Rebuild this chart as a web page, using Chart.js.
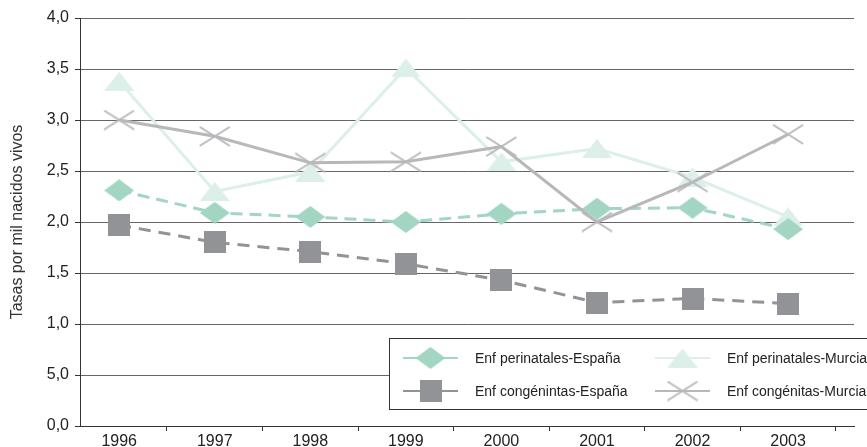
<!DOCTYPE html>
<html>
<head>
<meta charset="utf-8">
<script src="https://cdn.jsdelivr.net/npm/chart.js@4.4.1/dist/chart.umd.min.js"></script>
<style>
  html, body { margin: 0; padding: 0; background: #fff; }
  canvas { display: block; }
</style>
</head>
<body>
<canvas id="chart" width="867" height="447"></canvas>
<script>
const years = ['1996', '1997', '1998', '1999', '2000', '2001', '2002', '2003'];
const perinatalesEspana = [2.31, 2.09, 2.05, 2.00, 2.08, 2.13, 2.14, 1.93];
const congenitasEspana = [1.97, 1.80, 1.71, 1.59, 1.43, 1.21, 1.25, 1.20];
const perinatalesMurcia = [3.38, 2.30, 2.49, 3.51, 2.59, 2.72, 2.44, 2.05];
const congenitasMurcia = [3.00, 2.84, 2.58, 2.59, 2.74, 2.00, 2.39, 2.86];
// the 0,5 tick really reads "5,0" in the original
const yTickLabels = ['0,0', '5,0', '1,0', '1,5', '2,0', '2,5', '3,0', '3,5', '4,0'];
const yTitle = 'Tasas por mil nacidos vivos';

const GREEN = '#a2d6c3';
const PALE = '#dcefe8';
const DARK = '#929396';
const LIGHT = '#b8b8bc';
const FONT = 'Arial, "Liberation Sans", Helvetica, sans-serif';

function marker(w, h, draw) {
  const c = document.createElement('canvas');
  c.width = w; c.height = h;
  draw(c.getContext('2d'), w, h);
  return c;
}
const diamond = marker(30, 22, (g, w, h) => {
  g.fillStyle = GREEN;
  g.beginPath();
  g.moveTo(w / 2, 0); g.lineTo(w, h / 2); g.lineTo(w / 2, h); g.lineTo(0, h / 2);
  g.closePath(); g.fill();
});
const square = marker(22, 22, (g, w, h) => { g.fillStyle = DARK; g.fillRect(0, 0, w, h); });
const triangle = marker(30, 19, (g, w, h) => {
  g.fillStyle = PALE;
  g.beginPath();
  g.moveTo(w / 2, 0); g.lineTo(w, h); g.lineTo(0, h);
  g.closePath(); g.fill();
});
const cross = marker(32, 21, (g, w, h) => {
  g.strokeStyle = LIGHT; g.lineWidth = 2;
  g.beginPath();
  g.moveTo(1, 1); g.lineTo(w - 1, h - 1);
  g.moveTo(w - 1, 1); g.lineTo(1, h - 1);
  g.stroke();
});

const toPoints = arr => arr.map((v, i) => ({ x: i, y: v }));

const datasets = [
  { label: 'Enf perinatales-España', data: toPoints(perinatalesEspana), borderColor: GREEN,
    borderWidth: 3, borderDash: [12, 7], pointStyle: diamond, order: 3 },
  { label: 'Enf perinatales-Murcia', data: toPoints(perinatalesMurcia), borderColor: PALE,
    borderWidth: 3, pointStyle: triangle, order: 4 },
  { label: 'Enf congénintas-España', data: toPoints(congenitasEspana), borderColor: DARK,
    borderWidth: 3, borderDash: [12, 8], pointStyle: square, order: 2 },
  { label: 'Enf congénitas-Murcia', data: toPoints(congenitasMurcia), borderColor: LIGHT,
    borderWidth: 3, pointStyle: cross, order: 1 },
];

// legend drawn on the canvas: 2 x 2 grid inside a white box
const legendBox = {
  id: 'legendBox',
  afterDatasetsDraw(chart) {
    const ctx = chart.ctx;
    ctx.save();
    ctx.fillStyle = '#fff';
    ctx.strokeStyle = '#333';
    ctx.lineWidth = 1;
    ctx.fillRect(389.5, 338.5, 500, 71);
    ctx.strokeRect(389.5, 338.5, 500, 71);
    const cols = [403, 655];
    const rows = [358, 391];
    chart.data.datasets.forEach((ds, i) => {
      const x = cols[i % 2];
      const y = rows[Math.floor(i / 2)];
      ctx.strokeStyle = ds.borderColor;
      ctx.lineWidth = 2;
      ctx.beginPath();
      ctx.moveTo(x, y); ctx.lineTo(x + 55, y);
      ctx.stroke();
      const img = ds.pointStyle;
      ctx.drawImage(img, x + 27.5 - img.width / 2, y - img.height / 2);
      ctx.fillStyle = '#222';
      ctx.font = '14px ' + FONT;
      ctx.textBaseline = 'middle';
      ctx.fillText(ds.label, x + 72, y + 1);
    });
    ctx.restore();
  }
};

new Chart(document.getElementById('chart'), {
  type: 'line',
  data: { datasets },
  plugins: [legendBox],
  options: {
    responsive: false,
    animation: false,
    devicePixelRatio: 1,
    layout: { padding: { top: 18, right: 0, left: 0, bottom: 0 } },
    elements: { line: { tension: 0, fill: false }, point: { radius: 10 } },
    plugins: { legend: { display: false }, tooltip: { enabled: false } },
    events: [],
    scales: {
      x: {
        type: 'linear',
        min: -0.41,
        max: 7.69,
        afterBuildTicks: scale => {
          const t = [];
          for (let i = 0; i < years.length; i++) { t.push({ value: i }); t.push({ value: i + 0.5 }); }
          scale.ticks = t;
        },
        afterFit: scale => { scale.height = 21; },
        ticks: {
          autoSkip: false, maxRotation: 0, padding: 1, color: '#222',
          font: { family: FONT, size: 16 },
          callback: v => Number.isInteger(v) ? years[v] : ''
        },
        grid: {
          drawOnChartArea: false, tickLength: 5,
          tickColor: ctx => (ctx.tick && Number.isInteger(ctx.tick.value)) ? 'rgba(0,0,0,0)' : '#333'
        },
        border: { color: '#333', width: 1 }
      },
      y: {
        min: 0,
        max: 4,
        afterFit: scale => { scale.width = 80; },
        ticks: {
          stepSize: 0.5, padding: 6, color: '#222',
          font: { family: FONT, size: 16 },
          callback: (v, i) => yTickLabels[i]
        },
        grid: { color: '#666', tickLength: 5, tickColor: '#333' },
        border: { color: '#333', width: 1 },
        title: {
          display: true, text: yTitle, color: '#333',
          font: { family: FONT, size: 16 },
          padding: { top: 8, bottom: 0 }
        }
      }
    }
  }
});
</script>
</body>
</html>
